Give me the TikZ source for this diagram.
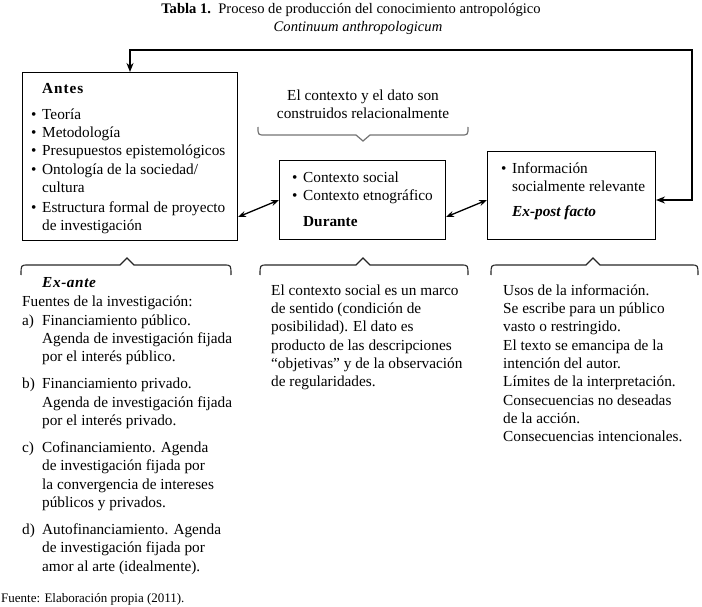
\documentclass[tikz,border=0pt]{standalone}
\usepackage{fontspec}
\setmainfont{Liberation Serif}
\usetikzlibrary{arrows.meta}
\newcommand\bodysize{\fontsize{15.3}{18.3}\selectfont}
\newcommand\bul{\makebox[11pt][l]{•}}
\newcommand\ind{\hspace*{11pt}}
\newcommand\lab[1]{\makebox[20pt][l]{#1}}
\newcommand\lind{\hspace*{20pt}}
\tikzset{
  txt/.style={anchor=base west, inner sep=0pt, align=left, font=\bodysize},
  mtxt/.style={anchor=north west, inner sep=0pt, align=left, font=\bodysize},
  ctxt/.style={anchor=north, inner sep=0pt, align=center, font=\bodysize},
  boxnode/.style={draw, line width=1pt, inner sep=0pt, anchor=north west},
  feedback/.style={line width=2.2pt, {Stealth[length=9pt,width=7pt]}-{Stealth[length=9pt,width=7pt]}},
  dbl/.style={line width=1.3pt, {Stealth[length=8pt,width=6pt]}-{Stealth[length=8pt,width=6pt]}},
  bracetop/.style={line width=1.2pt, draw=black!55},
  bracebot/.style={line width=1.1pt, draw=black!85},
}
\begin{document}
\begin{tikzpicture}[x=1pt,y=-1pt]
\useasboundingbox (0,0) rectangle (702,607);
% title
\node[anchor=base, inner sep=0pt, font=\fontsize{14.6}{17}\selectfont] (title1) at (351,14)
  {\textbf{Tabla 1.}\enspace Proceso de producción del conocimiento antropológico};
\node[anchor=base, inner sep=0pt, font=\fontsize{14.6}{17}\selectfont\itshape] (title2) at (358,32)
  {Continuum anthropologicum};
% boxes
\node[boxnode, minimum width=215pt, minimum height=168pt] (antes) at (22,72) {};
\node[boxnode, minimum width=166pt, minimum height=79pt] (durante) at (279,160) {};
\node[boxnode, minimum width=168pt, minimum height=88pt] (info) at (487,151) {};
% box texts
\node[txt] (antesH) at (42,94) {{\addfontfeature{LetterSpace=6}\bfseries Antes}};
\node[mtxt] (antesL) at (31,106.2) {\strut\bul Teoría\\
  \bul Metodología\\
  \bul Presupuestos epistemológicos\\
  \bul Ontología de la sociedad/\\
  \ind cultura\\[1.5pt]
  \bul Estructura formal de proyecto\\
  \ind de investigación};
\node[mtxt] (duranteL) at (292,169.2) {\strut\bul Contexto social\\
  \bul Contexto etnográfico};
\node[txt] (duranteH) at (303,226) {\textbf{Durante}};
\node[mtxt] (infoL) at (501,160.2) {\strut\bul Información\\
  \ind socialmente relevante};
\node[txt] (infoH) at (512,217) {\textbf{\textit{Ex-post facto}}};
% upper brace and its text
\node[ctxt] (rel) at (363,87.2) {\strut El contexto y el dato son\\construidos relacionalmente};
\draw[bracetop] (258,127) .. controls (258,135) .. (265,135) -- (356,135) -- (363,141)
  -- (370,135) -- (461,135) .. controls (468,135) .. (468,127);
% feedback arrow
\coordinate (fbA) at (130,50);
\coordinate (fbB) at (692,50);
\coordinate (fbC) at (692,200);
\draw[feedback] (antes.north -| fbA) -- (fbA) -- (fbB) -- (fbC) -- (fbC -| info.east);
% double arrows
\coordinate (yLow) at (0,217);
\coordinate (yHigh) at (0,200);
\draw[dbl] (antes.east |- yLow) -- (durante.west |- yHigh);
\draw[dbl] (durante.east |- yLow) -- (info.west |- yHigh);
% lower braces
\draw[bracebot] (21,275) .. controls (21,265) .. (28,265) -- (120,265) -- (127,258)
  -- (134,265) -- (224,265) .. controls (231,265) .. (231,275);
\draw[bracebot] (260,275) .. controls (260,265) .. (267,265) -- (356,265) -- (363,258)
  -- (370,265) -- (461,265) .. controls (468,265) .. (468,275);
\draw[bracebot] (491,275) .. controls (491,265) .. (498,265) -- (586,265) -- (593,258)
  -- (600,265) -- (691,265) .. controls (698,265) .. (698,275);
% lower left text
\node[txt] (exante) at (42,287) {{\addfontfeature{LetterSpace=4}\bfseries\itshape Ex-ante}};
\node[mtxt] (fuentesL) at (22,293.2) {\strut Fuentes de la investigación:\\[0.7pt]
  \lab{a)}Financiamiento público.\\
  \lind Agenda de investigación fijada\\
  \lind por el interés público.\\[8.8pt]
  \lab{b)}Financiamiento privado.\\
  \lind Agenda de investigación fijada\\
  \lind por el interés privado.\\[8.8pt]
  \lab{c)}Cofinanciamiento. Agenda\\
  \lind de investigación fijada por\\
  \lind la convergencia de intereses\\
  \lind públicos y privados.\\[8.8pt]
  \lab{d)}Autofinanciamiento. Agenda\\
  \lind de investigación fijada por\\
  \lind amor al arte (idealmente).};
% lower middle text
\node[mtxt] (midT) at (271,282.2) {\strut El contexto social es un marco\\
  de sentido (condición de\\
  posibilidad). El dato es\\
  producto de las descripciones\\
  “objetivas” y de la observación\\
  de regularidades.};
% lower right text
\node[mtxt] (rightT) at (503,282.2) {\strut Usos de la información.\\
  Se escribe para un público\\
  vasto o restringido.\\
  El texto se emancipa de la\\
  intención del autor.\\
  Límites de la interpretación.\\
  Consecuencias no deseadas\\
  de la acción.\\
  Consecuencias intencionales.};
% source
\node[anchor=base west, inner sep=0pt, font=\fontsize{13}{15}\selectfont] (fuente) at (1,602)
  {Fuente: Elaboración propia (2011).};
\end{tikzpicture}
\end{document}
